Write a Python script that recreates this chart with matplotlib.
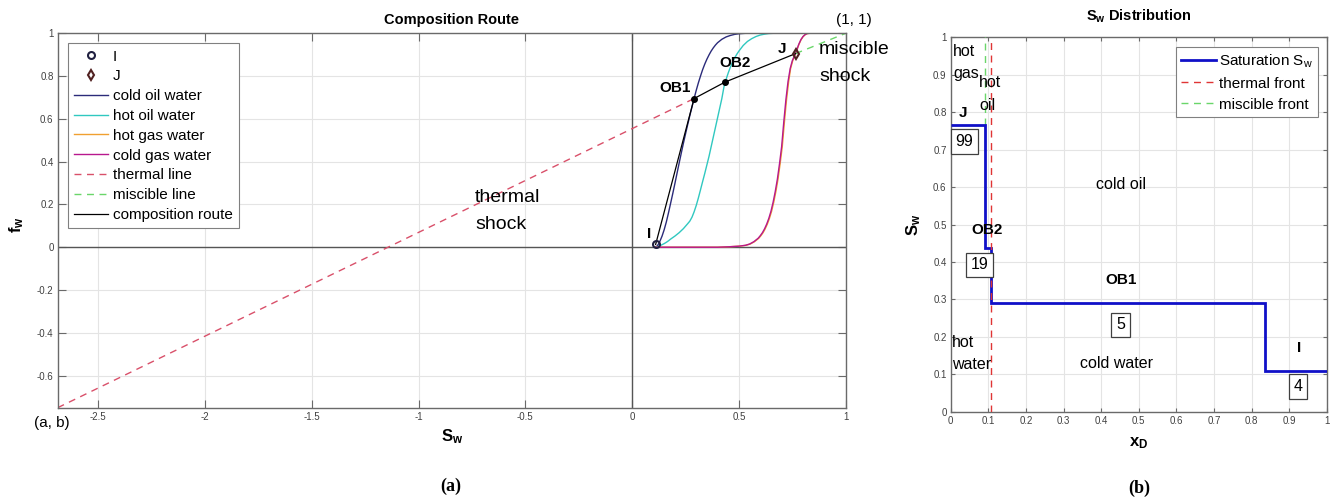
import matplotlib
matplotlib.use("Agg")
import matplotlib.pyplot as plt
from matplotlib.lines import Line2D

plt.rcParams['font.family'] = ['Liberation Sans', 'DejaVu Sans']
plt.rcParams['mathtext.fontset'] = 'custom'
plt.rcParams['mathtext.rm'] = 'Liberation Sans'
plt.rcParams['mathtext.it'] = 'Liberation Sans:italic'
plt.rcParams['mathtext.bf'] = 'Liberation Sans:bold'

# ---- fractional-flow curves (Sw, fw) ----
sw_cold_oil = [0.11, 0.115, 0.12, 0.125, 0.13, 0.14, 0.15, 0.16, 0.17, 0.18, 0.19,
               0.20, 0.21, 0.22, 0.23, 0.24, 0.25, 0.26, 0.27, 0.28, 0.29, 0.30,
               0.31, 0.32, 0.33, 0.34, 0.35, 0.36, 0.37, 0.38, 0.39, 0.40, 0.42,
               0.44, 0.46, 0.48, 0.50, 0.53, 1.0]
fw_cold_oil = [0.0, 0.004, 0.01, 0.018, 0.028, 0.052, 0.082, 0.118, 0.16, 0.205, 0.25,
               0.297, 0.345, 0.393, 0.44, 0.486, 0.53, 0.573, 0.615, 0.655, 0.695, 0.733,
               0.768, 0.80, 0.83, 0.856, 0.879, 0.899, 0.917, 0.932, 0.945, 0.956, 0.972,
               0.983, 0.990, 0.995, 0.998, 1.0, 1.0]

sw_hot_oil = [0.11, 0.12, 0.13, 0.14, 0.15, 0.16, 0.17, 0.18, 0.20, 0.22, 0.24, 0.26,
              0.27, 0.28, 0.29, 0.30, 0.31, 0.32, 0.33, 0.34, 0.35, 0.36, 0.37, 0.38,
              0.39, 0.40, 0.41, 0.42, 0.43, 0.44, 0.45, 0.46, 0.47, 0.48, 0.49, 0.50,
              0.52, 0.54, 0.56, 0.58, 0.60, 0.62, 0.64, 0.66, 1.0]
fw_hot_oil = [0.0, 0.003, 0.007, 0.012, 0.017, 0.023, 0.03, 0.038, 0.052, 0.068, 0.087,
              0.11, 0.122, 0.14, 0.165, 0.195, 0.23, 0.268, 0.307, 0.345, 0.385, 0.425,
              0.47, 0.515, 0.56, 0.605, 0.65, 0.695, 0.75, 0.785, 0.815, 0.842, 0.865,
              0.885, 0.902, 0.917, 0.943, 0.962, 0.975, 0.985, 0.992, 0.996, 0.999,
              1.0, 1.0]

sw_cold_gas = [0.11, 0.40, 0.45, 0.50, 0.53, 0.55, 0.57, 0.59, 0.60, 0.61, 0.62, 0.63,
               0.64, 0.65, 0.66, 0.67, 0.68, 0.69, 0.70, 0.71, 0.72, 0.73, 0.74, 0.75,
               0.76, 0.765, 0.77, 0.78, 0.79, 0.80, 0.81, 0.82, 0.83, 1.0]
fw_cold_gas = [0.0, 0.0, 0.002, 0.005, 0.009, 0.015, 0.026, 0.042, 0.054, 0.068, 0.086,
               0.108, 0.135, 0.168, 0.21, 0.26, 0.318, 0.39, 0.47, 0.585, 0.69, 0.775,
               0.835, 0.872, 0.895, 0.905, 0.92, 0.948, 0.97, 0.985, 0.994, 0.999, 1.0,
               1.0]

sw_hot_gas = [0.11, 0.40, 0.45, 0.50, 0.533, 0.553, 0.573, 0.593, 0.603, 0.613, 0.623,
              0.633, 0.643, 0.653, 0.663, 0.673, 0.683, 0.693, 0.703, 0.713, 0.723,
              0.733, 0.742, 0.752, 0.761, 0.766, 0.771, 0.781, 0.791, 0.801, 0.811,
              0.821, 0.831, 1.0]
fw_hot_gas = fw_cold_gas

# ---- composition route: I -> OB1 -> OB2 -> J ----
route_names = ['I', 'OB1', 'OB2', 'J']
route_sw = [0.11, 0.29, 0.435, 0.765]
route_fw = [0.013, 0.695, 0.772, 0.905]
corner_ab = (-2.69, -0.75)
corner_11 = (1.0, 1.0)

# ---- saturation profile along the core ----
xd_edges = [0.0, 0.09, 0.107, 0.837, 1.0]
sw_levels = [0.765, 0.436, 0.291, 0.11]
miscible_front = 0.09
thermal_front = 0.107
region_labels = ['99', '19', '5', '4']

C_COLD_OIL = '#2b2b7a'
C_HOT_OIL = '#30c8c0'
C_HOT_GAS = '#f0a030'
C_COLD_GAS = '#b8188e'
C_THERMAL = '#d9506a'
C_MISC = '#6ad66a'
SPINE = '#6a6a6a'
GRID = '#e4e4e4'

fig = plt.figure(figsize=(13.37, 4.99), dpi=100)
W, H = 1337.0, 499.0


def px_axes(l, t, r, b):
    return [l / W, 1 - b / H, (r - l) / W, (b - t) / H]


def style(ax, ticklen):
    for s in ax.spines.values():
        s.set_color(SPINE)
        s.set_linewidth(1.0)
    ax.tick_params(direction='in', length=ticklen, width=0.8, color=SPINE,
                   labelsize=7, labelcolor='#404040', top=True, right=True,
                   pad=3)
    ax.grid(True, color=GRID, lw=0.8)
    ax.set_axisbelow(True)


# ================= (a) composition route =================
ax = fig.add_axes(px_axes(57.7, 33.3, 845.7, 407.7))
style(ax, 6)
ax.set_xlim(corner_ab[0], 1)
ax.set_ylim(corner_ab[1], 1)
ax.set_xticks([-2.5, -2, -1.5, -1, -0.5, 0, 0.5, 1])
ax.set_xticklabels(['-2.5', '-2', '-1.5', '-1', '-0.5', '0', '0.5', '1'])
ax.set_yticks([-0.6, -0.4, -0.2, 0, 0.2, 0.4, 0.6, 0.8, 1])
ax.set_yticklabels(['-0.6', '-0.4', '-0.2', '0', '0.2', '0.4', '0.6', '0.8', '1'])
ax.axhline(0, color='#555555', lw=1.0, zorder=1.5)
ax.axvline(0, color='#555555', lw=1.0, zorder=1.5)

h_cold_oil, = ax.plot(sw_cold_oil, fw_cold_oil, color=C_COLD_OIL, lw=1.0)
h_hot_oil, = ax.plot(sw_hot_oil, fw_hot_oil, color=C_HOT_OIL, lw=1.0)
h_hot_gas, = ax.plot(sw_hot_gas, fw_hot_gas, color=C_HOT_GAS, lw=1.0)
h_cold_gas, = ax.plot(sw_cold_gas, fw_cold_gas, color=C_COLD_GAS, lw=1.0)
h_thermal, = ax.plot([corner_ab[0], route_sw[1]], [corner_ab[1], route_fw[1]],
                     color=C_THERMAL, lw=1.0, ls=(0, (5, 4)))
h_misc, = ax.plot([route_sw[3], corner_11[0]], [route_fw[3], corner_11[1]],
                  color=C_MISC, lw=1.0, ls=(0, (5, 4)))
h_route, = ax.plot(route_sw, route_fw, color='black', lw=0.9)
ax.plot(route_sw[1:3], route_fw[1:3], 'o', color='black', ms=4, zorder=5)
h_I, = ax.plot(route_sw[0], route_fw[0], 'o', mfc='none', mec='#202040', mew=1.5,
               ms=5, zorder=6)
h_J, = ax.plot(route_sw[3], route_fw[3], 'd', mfc='none', mec='#502020', mew=1.5,
               ms=5, zorder=6)

pt_label_off = {'I': (-0.029, 0.05), 'OB1': (-0.09, 0.05), 'OB2': (0.047, 0.088),
                'J': (-0.065, 0.02)}
for name, s, f in zip(route_names, route_sw, route_fw):
    dx, dy = pt_label_off[name]
    ax.text(s + dx, f + dy, name, fontsize=11, fontweight='bold',
            ha='center', va='center')

ax.text(-0.735, 0.234, 'thermal', fontsize=14, ha='left', va='center')
ax.text(-0.735, 0.104, 'shock', fontsize=14, ha='left', va='center')
ax.text(0.875, 0.922, 'miscible', fontsize=14, ha='left', va='center', clip_on=False)
ax.text(0.875, 0.796, 'shock', fontsize=14, ha='left', va='center', clip_on=False)
ax.text(-0.007, -0.041, '(a, b)', fontsize=11, ha='center', va='center',
        transform=ax.transAxes)
ax.text(1.01, 1.035, '(1, 1)', fontsize=11, ha='center', va='center',
        transform=ax.transAxes)

ax.text(0.5, 1.035, 'Composition Route', fontsize=10.5, fontweight='bold',
        ha='center', va='center', transform=ax.transAxes)
ax.text(0.5, -0.078, r'$\mathbf{S_w}$', fontsize=12, ha='center', va='center',
        transform=ax.transAxes)
ax.text(-0.052, 0.488, r'$\mathbf{f_w}$', fontsize=12, ha='center', va='center',
        rotation=90, transform=ax.transAxes)

leg = ax.legend([h_I, h_J, h_cold_oil, h_hot_oil, h_hot_gas, h_cold_gas,
                 h_thermal, h_misc, h_route],
                ['I', 'J', 'cold oil water', 'hot oil water', 'hot gas water',
                 'cold gas water', 'thermal line', 'miscible line',
                 'composition route'],
                loc='upper left', bbox_to_anchor=(0.0135, 0.973), borderaxespad=0,
                fontsize=11, labelspacing=0.38, handlelength=2.2, handletextpad=0.3,
                borderpad=0.4, fancybox=False, framealpha=1, edgecolor='#808080')
leg.get_frame().set_linewidth(0.8)

# ================= (b) Sw distribution =================
bx = fig.add_axes(px_axes(950.7, 37.3, 1326.7, 411.7))
style(bx, 3)
bx.set_xlim(0, 1)
bx.set_ylim(0, 1)
ticks = [i / 10 for i in range(11)]
tick_txt = ['0'] + ['%.1f' % t for t in ticks[1:-1]] + ['1']
bx.set_xticks(ticks)
bx.set_xticklabels(tick_txt)
bx.set_yticks(ticks)
bx.set_yticklabels(tick_txt)

h_sat = bx.stairs(sw_levels, xd_edges, baseline=None, color='#1010c8', lw=2.0,
                  zorder=4)
h_tf = bx.axvline(thermal_front, color='#e03535', lw=1.0, ls=(0, (5, 4)), zorder=5)
h_mf = bx.axvline(miscible_front, ymin=sw_levels[0], color=C_MISC, lw=1.0,
                  ls=(0, (5, 4)), zorder=3)

for txt, (x, y) in zip(['hot', 'gas', 'hot', 'oil', 'hot', 'water'],
                       [(0.007, 0.962), (0.007, 0.902), (0.076, 0.879),
                        (0.077, 0.819), (0.004, 0.184), (0.004, 0.126)]):
    bx.text(x, y, txt, fontsize=11.5, ha='left', va='center', zorder=6)
bx.text(0.454, 0.607, 'cold oil', fontsize=11.5, ha='center', va='center')
bx.text(0.441, 0.129, 'cold water', fontsize=11.5, ha='center', va='center')

for name, (x, y) in zip(['J', 'OB2', 'OB1', 'I'],
                        [(0.033, 0.799), (0.098, 0.485), (0.454, 0.352),
                         (0.926, 0.169)]):
    bx.text(x, y, name, fontsize=11, fontweight='bold', ha='center', va='center',
            zorder=6)

for txt, (x, y) in zip(region_labels, [(0.036, 0.721), (0.077, 0.392),
                                       (0.452, 0.232), (0.924, 0.067)]):
    bx.text(x, y, txt, fontsize=11.5, ha='center', va='center', zorder=7,
            bbox=dict(boxstyle='square,pad=0.3', fc='white', ec='#404040', lw=0.9))

bx.text(0.5, 1.056, r'$\mathbf{S_w}$ Distribution', fontsize=10.5,
        fontweight='bold', ha='center', va='center', transform=bx.transAxes)
bx.text(0.5, -0.084, r'$\mathbf{x_D}$', fontsize=12, ha='center', va='center',
        transform=bx.transAxes)
bx.text(-0.099, 0.499, r'$\mathbf{S_w}$', fontsize=12, ha='center', va='center',
        rotation=90, transform=bx.transAxes)

sat_handle = Line2D([], [], color='#1010c8', lw=2.0)
tf_handle = Line2D([], [], color='#e03535', lw=1.0, ls=(0, (5, 4)))
mf_handle = Line2D([], [], color=C_MISC, lw=1.0, ls=(0, (5, 4)))
leg2 = bx.legend([sat_handle, tf_handle, mf_handle],
                 [r'Saturation S$_\mathrm{w}$', 'thermal front', 'miscible front'],
                 loc='upper right', bbox_to_anchor=(0.978, 0.974), borderaxespad=0,
                 fontsize=11, labelspacing=0.45, handlelength=2.3, handletextpad=0.2,
                 borderpad=0.35, fancybox=False, framealpha=1, edgecolor='#808080')
leg2.get_frame().set_linewidth(0.8)

fig.text(451 / W, 1 - 486 / H, '(a)', fontsize=13, fontweight='bold',
         family='Liberation Serif', ha='center', va='center')
fig.text(1139 / W, 1 - 488 / H, '(b)', fontsize=13, fontweight='bold',
         family='Liberation Serif', ha='center', va='center')

fig.savefig('out.png', dpi=100)
